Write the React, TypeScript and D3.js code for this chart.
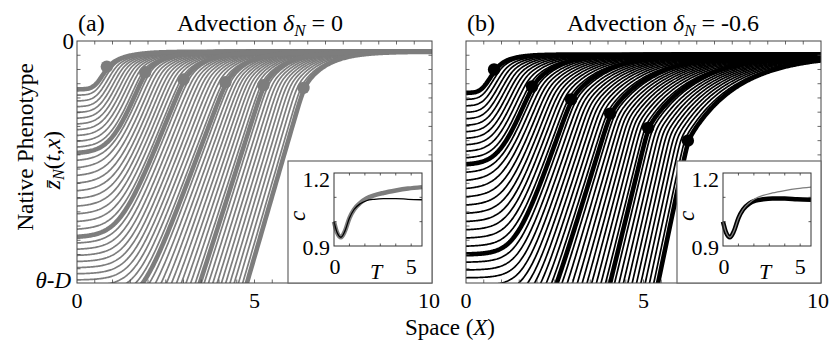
import React, { useEffect, useRef } from "react";
import * as d3 from "d3";

// snapshot curves (thick lines with a dot), one every 11 time steps
// panel (a): no advection
const kneeXA = [0.84, 1.92, 3.0, 4.18, 5.25, 6.38];
const kneeYA = [-0.18, -0.22, -0.27, -0.29, -0.31, -0.33];
const slopeA = [0.5, 0.62, 0.62, 0.66, 0.78, 0.86];
const edgeYA = [-0.34, -0.79, -1.38, -1.85, -2.4, -2.9];
const relaxA = [0.5, 0.55, 0.58, 0.6, 0.62, 0.65];

// panel (b): advection -0.6
const kneeXB = [0.79, 1.86, 2.96, 4.06, 5.13, 6.25];
const kneeYB = [-0.2, -0.32, -0.41, -0.51, -0.61, -0.7];
const slopeB = [0.5, 0.62, 0.7, 0.81, 1.02, 1.19];
const edgeYB = [-0.365, -0.87, -1.5, -2.1, -2.7, -3.3];
const relaxB = [0.4, 0.7, 0.95, 1.15, 1.3, 1.4];

const plateauY = [-0.075, -0.095];
const substeps = 11;

// inset: front speed c against time T
const insetT = [0, 0.2, 0.45, 0.7, 1.0, 1.3, 1.7, 2.1, 2.6, 3.2, 4.0, 4.8, 5.7];
const speedNoAdv = [1.0, 0.955, 0.936, 0.96, 1.015, 1.05, 1.077, 1.095, 1.108, 1.118, 1.128, 1.136, 1.142];
const speedAdv = [1.0, 0.955, 0.936, 0.96, 1.015, 1.05, 1.074, 1.086, 1.092, 1.095, 1.095, 1.092, 1.09];

const GRAY = "#7d7d7d";
const FONT = "'Liberation Serif', 'Times New Roman', serif";

const softplus = (v, s) => (v > 0 ? v + s * Math.log(1 + Math.exp(-v / s)) : s * Math.log(1 + Math.exp(v / s)));

// one phenotype profile: flat at the left wall, steep front, relaxing to the plateau
const profile = (xv, p, yp) => {
  const L = p.yk + p.m * (xv - p.xk);
  const u = (yp - p.yk) / p.lam;
  const U = xv >= p.xk ? yp - (yp - p.yk) * Math.exp(-(xv - p.xk) / p.lam) : p.yk + u * (xv - p.xk);
  const s1 = 0.03;
  const lo = Math.min(L, U) - s1 * Math.log(1 + Math.exp(-Math.abs(L - U) / s1));
  const s0 = Math.min(0.2, Math.max(0.05, 0.3 * (p.yk - p.y0)));
  return p.y0 + softplus(lo - p.y0, s0);
};

const buildCurves = (kx, ky, sl, ey, rl) => {
  const out = [];
  const n = kx.length;
  for (let k = 0; k < n; k++) {
    const steps = k < n - 1 ? substeps : 1;
    for (let j = 0; j < steps; j++) {
      const f = j / substeps;
      const mix = (a) => (k < n - 1 ? a[k] + (a[k + 1] - a[k]) * f : a[k]);
      out.push({ xk: mix(kx), yk: mix(ky), m: mix(sl), y0: mix(ey), lam: mix(rl), thick: j === 0 });
    }
  }
  return out;
};

const App = () => {
  const svgRef = useRef(null);

  useEffect(() => {
    const svg = d3.select(svgRef.current);
    svg.selectAll("*").remove();
    svg.style("font-family", FONT);

    const panels = [
      {
        key: "a", left: 77, color: GRAY, label: "(a)", titleX: 260, value: "0",
        curves: buildCurves(kneeXA, kneeYA, slopeA, edgeYA, relaxA), kx: kneeXA, ky: kneeYA, yp: plateauY[0],
        thick: { data: speedNoAdv, color: GRAY }, thin: { data: speedAdv, color: "#000" },
      },
      {
        key: "b", left: 466, color: "#000", label: "(b)", titleX: 663, value: "-0.6",
        curves: buildCurves(kneeXB, kneeYB, slopeB, edgeYB, relaxB), kx: kneeXB, ky: kneeYB, yp: plateauY[1],
        thick: { data: speedAdv, color: "#000" }, thin: { data: speedNoAdv, color: GRAY },
      },
    ];

    const top = 41, bottom = 283, width = 355;
    const defs = svg.append("defs");
    const xs = d3.range(0, 10.0001, 0.025);

    panels.forEach((p) => {
      const x = d3.scaleLinear().domain([0, 10]).range([p.left, p.left + width]);
      const y = d3.scaleLinear().domain([-1.7, 0]).range([bottom, top]);

      defs.append("clipPath").attr("id", `clip-${p.key}`)
        .append("rect").attr("x", p.left).attr("y", top).attr("width", width).attr("height", bottom - top);

      const g = svg.append("g");
      const plot = g.append("g").attr("clip-path", `url(#clip-${p.key})`);
      const line = d3.line().x((d) => x(d[0])).y((d) => y(d[1]));

      // thin profiles first, snapshots on top
      const ordered = [...p.curves.filter((c) => !c.thick), ...p.curves.filter((c) => c.thick)];
      plot.selectAll("path.curve")
        .data(ordered)
        .enter()
        .append("path")
        .attr("class", "curve")
        .attr("d", (c) => line(xs.map((xv) => [xv, profile(xv, c, p.yp)])))
        .attr("fill", "none")
        .attr("stroke", p.color)
        .attr("stroke-width", (c) => (c.thick ? 4.6 : 1.7));

      plot.selectAll("circle")
        .data(p.kx)
        .enter()
        .append("circle")
        .attr("cx", (d) => x(d))
        .attr("cy", (d, i) => y(p.ky[i]))
        .attr("r", 6.2)
        .attr("fill", p.color);

      // frame and ticks
      g.append("rect").attr("x", p.left).attr("y", top).attr("width", width).attr("height", bottom - top)
        .attr("fill", "none").attr("stroke", "#444").attr("stroke-width", 1);
      const tk = g.append("g").attr("stroke", "#444").attr("stroke-width", 0.8);
      d3.range(0.5, 10, 0.5).forEach((t) => {
        tk.append("line").attr("x1", x(t)).attr("x2", x(t)).attr("y1", bottom).attr("y2", bottom - 3.5);
        tk.append("line").attr("x1", x(t)).attr("x2", x(t)).attr("y1", top).attr("y2", top + 3.5);
      });
      d3.range(-1.6, -0.05, 0.1).forEach((t) => {
        tk.append("line").attr("x1", p.left).attr("x2", p.left + 3.5).attr("y1", y(t)).attr("y2", y(t));
        tk.append("line").attr("x1", p.left + width).attr("x2", p.left + width - 3.5).attr("y1", y(t)).attr("y2", y(t));
      });

      // x tick labels
      [0, 5, 10].forEach((t) => {
        g.append("text").attr("x", x(t) - (t === 10 ? 3 : 0)).attr("y", 308).attr("text-anchor", "middle")
          .attr("font-size", 22).text(String(t));
      });

      // titles
      g.append("text").attr("x", p.left + 1).attr("y", 31).attr("font-size", 24).text(p.label);
      const tt = g.append("text").attr("x", p.titleX).attr("y", 31).attr("text-anchor", "middle").attr("font-size", 24);
      tt.append("tspan").text("Advection ");
      tt.append("tspan").attr("font-style", "italic").text("δ");
      tt.append("tspan").attr("font-style", "italic").attr("font-size", 17).attr("dy", 5).text("N");
      tt.append("tspan").attr("dy", -5).text(` = ${p.value}`);

      // inset
      const bx = p.left + 211, ix0 = p.left + 257, ix1 = p.left + 345, iy0 = 173, iy1 = 246;
      g.append("rect").attr("x", bx).attr("y", 161).attr("width", p.left + width - bx).attr("height", bottom - 161)
        .attr("fill", "#fff").attr("stroke", "#666").attr("stroke-width", 1.2);
      const ix = d3.scaleLinear().domain([0, 5.7]).range([ix0, ix1]);
      const iy = d3.scaleLinear().domain([0.9, 1.2]).range([iy1, iy0]);
      const ig = g.append("g");
      const iline = d3.line().x((d, i) => ix(insetT[i])).y((d) => iy(d)).curve(d3.curveMonotoneX);
      ig.append("path").attr("d", iline(p.thick.data)).attr("fill", "none").attr("stroke", p.thick.color).attr("stroke-width", 4.5);
      ig.append("path").attr("d", iline(p.thin.data)).attr("fill", "none").attr("stroke", p.thin.color).attr("stroke-width", 1.3);
      ig.append("rect").attr("x", ix0).attr("y", iy0).attr("width", ix1 - ix0).attr("height", iy1 - iy0)
        .attr("fill", "none").attr("stroke", "#333").attr("stroke-width", 1);
      const itk = ig.append("g").attr("stroke", "#333").attr("stroke-width", 0.8);
      [1, 2, 3, 4, 5].forEach((t) => {
        itk.append("line").attr("x1", ix(t)).attr("x2", ix(t)).attr("y1", iy1).attr("y2", iy1 - 2.5);
        itk.append("line").attr("x1", ix(t)).attr("x2", ix(t)).attr("y1", iy0).attr("y2", iy0 + 2.5);
      });
      [1.0, 1.1].forEach((t) => {
        itk.append("line").attr("x1", ix0).attr("x2", ix0 + 2.5).attr("y1", iy(t)).attr("y2", iy(t));
        itk.append("line").attr("x1", ix1).attr("x2", ix1 - 2.5).attr("y1", iy(t)).attr("y2", iy(t));
      });
      ig.append("text").attr("x", ix0 - 4).attr("y", 187).attr("text-anchor", "end").attr("font-size", 22).text("1.2");
      ig.append("text").attr("x", ix0 - 4).attr("y", 255).attr("text-anchor", "end").attr("font-size", 22).text("0.9");
      ig.append("text").attr("x", ix(0) + 1).attr("y", 274).attr("text-anchor", "middle").attr("font-size", 22).text("0");
      ig.append("text").attr("x", ix(5)).attr("y", 274).attr("text-anchor", "middle").attr("font-size", 22).text("5");
      ig.append("text").attr("x", ix0 + 42).attr("y", 279).attr("text-anchor", "middle").attr("font-size", 22)
        .attr("font-style", "italic").text("T");
      ig.append("text").attr("transform", `translate(${ix0 - 29},216) rotate(-90)`).attr("text-anchor", "middle")
        .attr("font-size", 23).attr("font-style", "italic").text("c");
    });

    // y-axis labels of panel (a)
    svg.append("text").attr("x", 74).attr("y", 49).attr("text-anchor", "end").attr("font-size", 23).text("0");
    const th = svg.append("text").attr("x", 71).attr("y", 288).attr("text-anchor", "end").attr("font-size", 23);
    th.append("tspan").attr("font-style", "italic").text("θ");
    th.append("tspan").text("-");
    th.append("tspan").attr("font-style", "italic").text("D");

    svg.append("text").attr("transform", "translate(33,147) rotate(-90)").attr("text-anchor", "middle")
      .attr("font-size", 23.5).text("Native Phenotype");
    const zl = svg.append("text").attr("transform", "translate(60,160) rotate(-90)").attr("text-anchor", "middle")
      .attr("font-size", 23.5);
    zl.append("tspan").attr("font-style", "italic").text("z\u0304");
    zl.append("tspan").attr("font-style", "italic").attr("font-size", 16).attr("dy", 4).text("N");
    zl.append("tspan").attr("dy", -4).text("(");
    zl.append("tspan").attr("font-style", "italic").text("t");
    zl.append("tspan").text(",");
    zl.append("tspan").attr("font-style", "italic").text("x");
    zl.append("tspan").text(")");

    // shared x label
    const xl = svg.append("text").attr("x", 450).attr("y", 335).attr("text-anchor", "middle").attr("font-size", 23);
    xl.append("tspan").text("Space (");
    xl.append("tspan").attr("font-style", "italic").text("X");
    xl.append("tspan").text(")");
  }, []);

  return (
    <svg ref={svgRef} width={835} height={340} style={{ position: "absolute", left: 0, top: 0, background: "#fff" }} />
  );
};

export default App;
